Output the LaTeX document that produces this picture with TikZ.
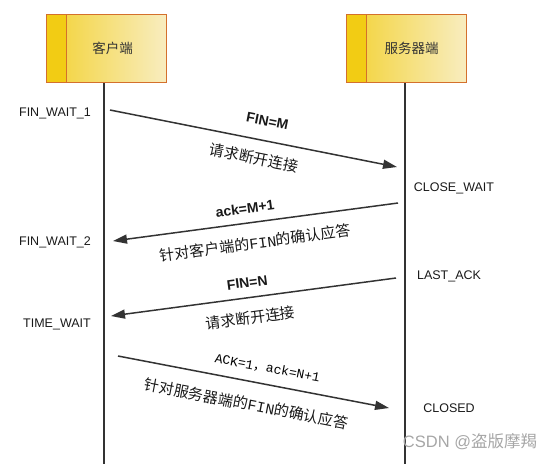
\documentclass[tikz,border=0pt]{standalone}
\usepackage{fontspec}
\setmainfont{Liberation Sans}
\setmonofont{Liberation Mono}
\newfontfamily\cjk{Noto Sans CJK SC}
\usetikzlibrary{arrows.meta}
\usetikzlibrary{calc}
\usetikzlibrary{positioning}

\definecolor{boxedge}{HTML}{D4702C}
\definecolor{stripgold}{HTML}{F2CC14}
\definecolor{boxgold}{HTML}{F3D234}
\definecolor{boxlight}{HTML}{F8EDC0}
\definecolor{ink}{HTML}{333333}

\tikzset{
  lanebox/.style={rectangle, draw=boxedge, line width=1.6pt, minimum width=120pt, minimum height=68pt, inner sep=0pt, left color=boxgold, right color=boxlight},
  lanestrip/.style={rectangle, draw=boxedge, line width=1.6pt, fill=stripgold, minimum width=20pt, minimum height=68pt, inner sep=0pt},
  lanename/.style={font=\cjk\fontsize{13.5}{16}\selectfont, text=black!80},
  lifeline/.style={draw=ink, line width=2pt},
  msg/.style={draw=ink, line width=1.5pt, -{Triangle[length=14pt,width=9pt]}},
  state/.style={font=\fontsize{12.5}{15}\selectfont, text=black!90},
  flag/.style={font=\bfseries\fontsize{14}{16}\selectfont, text=black!90, inner sep=0pt},
  note/.style={font=\cjk\fontsize{15}{18}\selectfont, text=black!90, inner sep=0pt},
}

\begin{document}
\begin{tikzpicture}[x=1pt, y=-1pt]
  \useasboundingbox (0,0) rectangle (553,464);

  % the two ends
  \node[lanebox] (client) at (106.5,48.5) {};
  \node[lanestrip, anchor=north west] (clientstrip) at (client.north west) {};
  \node[lanename] (clientname) at ([xshift=6pt]client.center) {客户端};

  \node[lanebox] (server) at (406.5,48.5) {};
  \node[lanestrip, anchor=north west] (serverstrip) at (server.north west) {};
  \node[lanename] (servername) at ([xshift=5pt]server.center) {服务器端};

  \coordinate (clientbottom) at (104,464);
  \coordinate (serverbottom) at (405,464);
  \draw[lifeline] (clientbottom |- client.south) -- (clientbottom);
  \draw[lifeline] (serverbottom |- server.south) -- (serverbottom);

  % states
  \node[state] (finwait1) at (55,113) {FIN\_WAIT\_1};
  \node[state] (finwait2) at (55,242) {FIN\_WAIT\_2};
  \node[state] (timewait) at (57,324) {TIME\_WAIT};
  \node[state] (closewait) at (454,188) {CLOSE\_WAIT};
  \node[state] (lastack) at (449,276) {LAST\_ACK};
  \node[state] (closed) at (449,408) {CLOSED};

  % messages
  \coordinate (fin1a) at (110,110);
  \coordinate (fin1b) at (397,167);
  \coordinate (ack1a) at (398,203);
  \coordinate (ack1b) at (113,241);
  \coordinate (fin2a) at (396,278);
  \coordinate (fin2b) at (111,316);
  \coordinate (ack2a) at (118,356);
  \coordinate (ack2b) at (389,408);

  \draw[msg] (fin1a) -- (fin1b)
    node[flag, pos=0.535, sloped, above=14pt] {FIN=M}
    node[note, pos=0.515, sloped, below=11.5pt] {请求断开连接};
  \draw[msg] (ack1a) -- (ack1b)
    node[flag, pos=0.53, sloped, above=9pt] {ack=M+1}
    node[note, pos=0.51, sloped, below=13pt] {针对客户端的\texttt{FIN}的确认应答};
  \draw[msg] (fin2a) -- (fin2b)
    node[flag, pos=0.515, sloped, above=9.5pt] {FIN=N}
    node[note, pos=0.52, sloped, below=12.5pt] {请求断开连接};
  \draw[msg] (ack2a) -- (ack2b)
    node[pos=0.54, sloped, above=10pt, inner sep=0pt, font=\ttfamily\fontsize{13}{15}\selectfont] {ACK=1{\cjk ，}ack=N+1}
    node[note, pos=0.49, sloped, below=15pt] {针对服务器端的\texttt{FIN}的确认应答};

  \node[text=black!35, font=\fontsize{16.5}{19}\selectfont] (mark) at (470,442) {CSDN @{\cjk 盗版摩羯}};
\end{tikzpicture}
\end{document}
